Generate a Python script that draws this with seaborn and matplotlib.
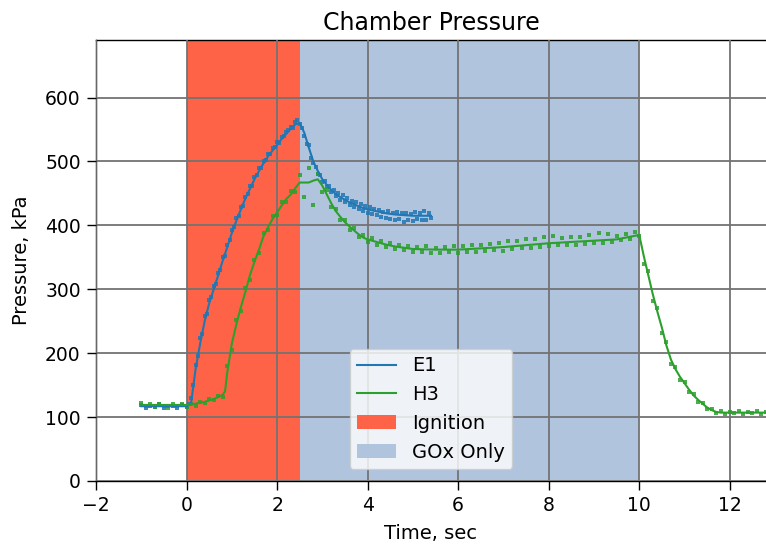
import numpy as np
import pandas as pd
import matplotlib
matplotlib.use("Agg")
import matplotlib.pyplot as plt
import seaborn as sns
from matplotlib.patches import Patch
from matplotlib.lines import Line2D

# ---- data ----
e1_t = [-1.0, -0.5, 0.0, 0.1, 0.2, 0.3, 0.4, 0.5, 0.6, 0.7, 0.8, 0.9, 1.0, 1.1, 1.2, 1.3,
        1.4, 1.5, 1.6, 1.7, 1.8, 1.9, 2.0, 2.1, 2.2, 2.3, 2.4, 2.5, 2.6, 2.7, 2.8, 2.9,
        3.0, 3.1, 3.2, 3.3, 3.4, 3.5, 3.6, 3.7, 3.8, 3.9, 4.0, 4.2, 4.4, 4.6, 4.8, 5.0,
        5.2, 5.4]
e1_p = [117, 117, 117, 122, 175, 215, 250, 278, 300, 322, 345, 366, 388, 407, 425, 442,
        457, 472, 485, 497, 508, 517, 526, 535, 543, 551, 558, 560, 545, 522, 500, 485,
        472, 463, 455, 449, 444, 440, 436, 433, 430, 427, 425, 422, 419, 417, 416, 415,
        415, 415]

h3_t = [-1.0, -0.5, 0.0, 0.2, 0.4, 0.6, 0.8, 0.85, 0.9, 1.0, 1.1, 1.2, 1.3, 1.4, 1.5, 1.6,
        1.7, 1.8, 1.9, 2.0, 2.1, 2.2, 2.3, 2.4, 2.5, 2.6, 2.7, 2.8, 2.9, 3.0, 3.1, 3.2,
        3.3, 3.4, 3.5, 3.6, 3.7, 3.8, 3.9, 4.0, 4.2, 4.4, 4.6, 4.8, 5.0, 5.5, 6.0, 6.5,
        7.0, 7.5, 8.0, 8.5, 9.0, 9.5, 10.0, 10.1, 10.2, 10.3, 10.4, 10.5, 10.6, 10.7,
        10.8, 10.9, 11.0, 11.1, 11.2, 11.3, 11.4, 11.5, 11.6, 11.7, 11.8, 12.2, 12.8]
h3_p = [119, 119, 119, 121, 124, 128, 135, 140, 170, 215, 245, 272, 296, 322, 343, 362,
        383, 397, 410, 420, 431, 441, 448, 458, 467, 467, 467, 470, 472, 462, 448, 434,
        422, 413, 405, 398, 392, 386, 381, 378, 374, 370, 367, 365, 363, 362, 362, 364,
        366, 369, 372, 374, 376, 378, 385, 352, 322, 292, 265, 240, 212, 190,
        175, 163, 153, 143, 134, 127, 121, 115, 111, 108, 107, 107, 107]

e1_raw_t = [-1.0, -0.9, -0.8, -0.7, -0.6, -0.5, -0.4, -0.3, -0.2, -0.1, 0.0, 0.05, 0.1,
            0.15, 0.2, 0.25, 0.3, 0.35, 0.4, 0.45, 0.5, 0.55, 0.6, 0.65, 0.7, 0.75, 0.8,
            0.85, 0.9, 0.95, 1.0, 1.05, 1.1, 1.15, 1.2, 1.25, 1.3, 1.35, 1.4, 1.45, 1.5,
            1.55, 1.6, 1.65, 1.7, 1.75, 1.8, 1.85, 1.9, 1.95, 2.0, 2.05, 2.1, 2.15, 2.2,
            2.25, 2.3, 2.35, 2.4, 2.45, 2.5, 2.55, 2.6, 2.65, 2.7, 2.75, 2.8, 2.85, 2.9,
            2.95, 3.0, 3.05, 3.1, 3.15, 3.2, 3.25, 3.3, 3.35, 3.4, 3.45, 3.5, 3.55, 3.6,
            3.65, 3.7, 3.75, 3.8, 3.85, 3.9, 3.95, 4.0, 4.05, 4.1, 4.15, 4.2, 4.25, 4.3,
            4.35, 4.4, 4.45, 4.5, 4.55, 4.6, 4.65, 4.7, 4.75, 4.8, 4.85, 4.9, 4.95, 5.0,
            5.05, 5.1, 5.15, 5.2, 5.25, 5.3, 5.35, 5.4]
e1_raw_p = [119, 114, 118, 116, 120, 115, 118, 117, 114, 119, 116, 121, 130,
            150, 182, 195, 224, 230, 258, 262, 283, 288, 305, 308, 326, 330, 350,
            352, 370, 377, 392, 397, 411, 414, 428, 431, 445, 449, 461, 462, 475,
            478, 489, 490, 500, 502, 511, 512, 521, 522, 530, 529, 538, 540, 546,
            549, 554, 553, 561, 565, 558, 552, 540, 528, 525, 505, 498, 492, 480,
            478, 468, 470, 460, 462, 452, 456, 446, 451, 440, 447, 436, 443, 432,
            438, 429, 436, 426, 433, 423, 430, 420, 428, 418, 426, 416, 424, 413,
            421, 411, 423, 410, 420, 408, 421, 410, 419, 406, 420, 409, 418, 407,
            421, 410, 419, 408, 422, 409, 420, 411]

h3_raw_t = [-1.0, -0.9, -0.8, -0.7, -0.6, -0.5, -0.4, -0.3, -0.2, -0.1, 0.0, 0.1, 0.2,
            0.3, 0.4, 0.5, 0.6, 0.7, 0.8, 0.9, 1.0, 1.1, 1.2, 1.3, 1.4, 1.5, 1.6, 1.7,
            1.8, 1.9, 2.0, 2.1, 2.2, 2.3, 2.4, 2.5, 2.6, 2.7, 2.8, 2.9, 3.0, 3.1, 3.2,
            3.3, 3.4, 3.5, 3.6, 3.7, 3.8, 3.9, 4.0, 4.1, 4.2, 4.3, 4.4, 4.5, 4.6, 4.7,
            4.8, 4.9, 5.0, 5.1, 5.2, 5.3, 5.4, 5.5, 5.6, 5.7, 5.8, 5.9, 6.0, 6.1, 6.2,
            6.3, 6.4, 6.5, 6.6, 6.7, 6.8, 6.9, 7.0, 7.1, 7.2, 7.3, 7.4, 7.5, 7.6, 7.7,
            7.8, 7.9, 8.0, 8.1, 8.2, 8.3, 8.4, 8.5, 8.6, 8.7, 8.8, 8.9, 9.0, 9.1, 9.2,
            9.3, 9.4, 9.5, 9.6, 9.7, 9.8, 9.9, 10.0, 10.1, 10.2, 10.3, 10.4, 10.5, 10.6,
            10.7, 10.8, 10.9, 11.0, 11.1, 11.2, 11.3, 11.4, 11.5, 11.6, 11.7, 11.8, 11.9,
            12.0, 12.1, 12.2, 12.3, 12.4, 12.5, 12.6, 12.7, 12.8]
h3_raw_p = [122, 117, 120, 116, 121, 118, 115, 120, 117, 121, 116, 121, 118,
            124, 122, 128, 126, 133, 131, 180, 205, 252, 266, 302, 314, 346, 356, 388,
            392, 415, 416, 436, 437, 453, 452, 478, 445, 490, 432, 480, 452, 455, 428,
            426, 408, 409, 393, 396, 382, 385, 374, 380, 370, 376, 366, 372, 363, 369,
            361, 368, 359, 366, 358, 367, 357, 365, 356, 366, 358, 367, 357, 368, 359,
            369, 358, 370, 360, 371, 361, 372, 360, 375, 363, 376, 364, 378, 365, 379,
            366, 381, 368, 383, 369, 380, 370, 381, 369, 382, 371, 385, 372, 388, 373,
            386, 374, 384, 377, 387, 378, 389, 383, 340, 328, 282, 270, 231, 218,
            183, 178, 158, 155, 139, 136, 124, 122, 112, 113, 106, 109, 105,
            108, 106, 109, 105, 108, 106, 109, 105, 108]

ignition_span = (0.0, 2.5)
gox_span = (2.5, 10.0)

# ---- figure ----
fig = plt.figure(figsize=(7.66, 5.45), dpi=100)
ax = fig.add_axes([96 / 766, 1 - 481 / 545, 1 - 96 / 766, (481 - 40) / 545])

ax.axvspan(*ignition_span, color="tomato", lw=0, zorder=1)
ax.axvspan(*gox_span, color="lightsteelblue", lw=0, zorder=1)

c_e1 = "#1f77b4"
c_h3 = "#2ca02c"

sns.scatterplot(x=e1_raw_t, y=e1_raw_p, ax=ax, color=c_e1, s=5, marker="s",
                linewidth=0, alpha=0.85, zorder=3, legend=False)
sns.scatterplot(x=h3_raw_t, y=h3_raw_p, ax=ax, color=c_h3, s=5, marker="s",
                linewidth=0, alpha=0.85, zorder=3, legend=False)
sns.lineplot(x=e1_t, y=e1_p, ax=ax, color=c_e1, lw=1.5, zorder=4,
             estimator=None, sort=False)
sns.lineplot(x=h3_t, y=h3_p, ax=ax, color=c_h3, lw=1.5, zorder=4,
             estimator=None, sort=False)

ax.set_xlim(-2, 12.8)
ax.set_ylim(0, 690)
ax.set_xticks([-2, 0, 2, 4, 6, 8, 10, 12])
ax.set_yticks([0, 100, 200, 300, 400, 500, 600])
ax.grid(True, color="0.45", lw=1.3, zorder=2)
ax.set_axisbelow(False)
for gl in ax.get_xgridlines() + ax.get_ygridlines():
    gl.set_zorder(2)
ax.tick_params(length=6.5, width=1, labelsize=13.5, pad=4.5)
for s in ["left", "bottom", "top"]:
    ax.spines[s].set_linewidth(1.0)
ax.spines["right"].set_visible(False)

ax.set_title("Chamber Pressure", fontsize=17, pad=7)
ax.set_xlabel("Time, sec", fontsize=14, labelpad=6)
ax.set_ylabel("Pressure, kPa", fontsize=14, labelpad=10)

handles = [Line2D([], [], color=c_e1, lw=1.5, label="E1"),
           Line2D([], [], color=c_h3, lw=1.5, label="H3"),
           Patch(facecolor="tomato", label="Ignition"),
           Patch(facecolor="lightsteelblue", label="GOx Only")]
leg = ax.legend(handles=handles, loc="lower center", fontsize=14, framealpha=0.8,
                borderaxespad=0.6)
leg.set_zorder(10)

fig.savefig("out.png", dpi=100)
